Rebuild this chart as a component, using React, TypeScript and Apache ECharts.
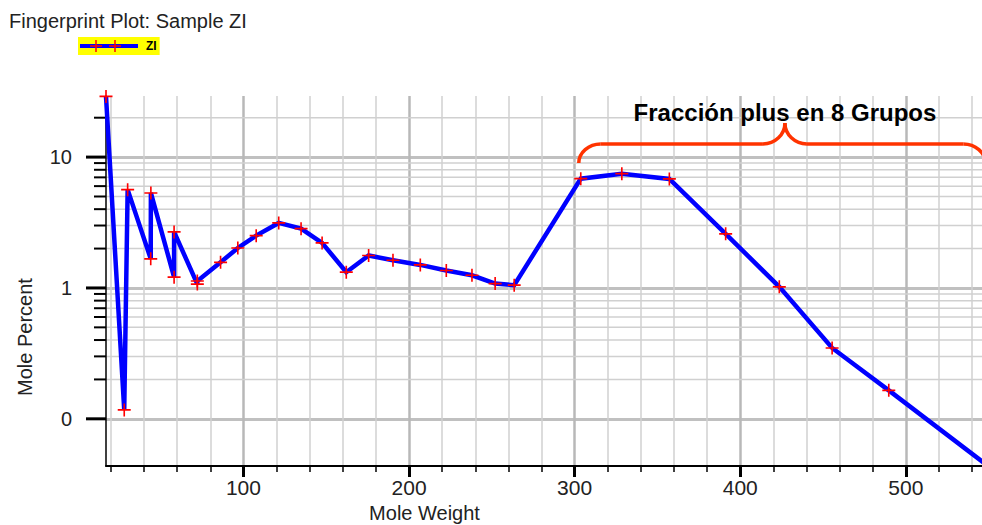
import React, { useEffect, useRef } from 'react';
import * as echarts from 'echarts';

// ---- data ----
const molWeight = [17, 28.01, 30.07, 44.01, 44.1, 58.12, 58.12, 72.15, 72.15, 86.18, 96.6, 107.7, 121.3, 134.8, 147.5, 162.1, 175.6, 190.3, 206.8, 222.5, 238, 252, 263.5, 303.7, 328.5, 357.2, 391.2, 423.6, 455.5, 489.7, 565];
const molePercent = [29.1, 0.117, 5.64, 1.67, 5.32, 1.21, 2.68, 1.07, 1.13, 1.57, 2.02, 2.51, 3.14, 2.84, 2.21, 1.32, 1.77, 1.63, 1.5, 1.36, 1.25, 1.08, 1.05, 6.84, 7.47, 6.81, 2.59, 1.02, 0.348, 0.165, 0.031];

const xMin = 17;
const xMax = 546;
const xMajorTicks = [100, 200, 300, 400, 500];
const xMinorTicks = [20, 40, 60, 80, 120, 140, 160, 180, 220, 240, 260, 280, 320, 340, 360, 380, 420, 440, 460, 480, 520, 540];

const yMin = 0.0436;
const yMax = 29.3;
const yMajorTicks = [0.1, 1, 10];
const yTickLabels = ['0', '1', '10'];
const yMinorTicks = [0.2, 0.3, 0.4, 0.5, 0.6, 0.7, 0.8, 0.9, 2, 3, 4, 5, 6, 7, 8, 9, 20];

const titleText = 'Fingerprint Plot: Sample ZI';
const seriesName = 'ZI';
const xName = 'Mole Weight';
const yName = 'Mole Percent';
const annotationText = 'Fracción plus en 8 Grupos';
// brace annotation anchors (data units)
const braceStartMW = 302.5;
const braceEndMW = 548;
const braceCuspMW = 427;
const braceBottomPct = 9.0;
const braceTopPct = 12.6;
const braceCuspPct = 18.2;

const FONT = 'Liberation Sans, Arial, Helvetica, sans-serif';
const plusPath = 'path://M5.25 0h1.5v5.25h5.25v1.5h-5.25v5.25h-1.5v-5.25h-5.25v-1.5h5.25z';

export default function App() {
  const ref = useRef<HTMLDivElement>(null);
  useEffect(() => {
    const el = ref.current!;
    const chart = echarts.init(el, null, { renderer: 'svg' });
    const option: any = {
      animation: false,
      backgroundColor: '#ffffff',
      title: {
        text: titleText,
        left: 9,
        top: 11,
        padding: 0,
        textStyle: { fontSize: 20, fontWeight: 'normal', color: '#222', fontFamily: FONT },
      },
      legend: {
        data: [seriesName],
        left: 78,
        top: 37,
        padding: [3, 3, 3, 0],
        backgroundColor: '#ffff00',
        itemWidth: 58,
        itemHeight: 12,
        itemGap: 0,
        selectedMode: false,
        lineStyle: { width: 4 },
        itemStyle: { opacity: 0 },
        textStyle: { fontSize: 12, fontWeight: 'bold', color: '#000', fontFamily: FONT, padding: [0, 0, 0, 3] },
      },
      grid: { left: 106, right: 0, top: 96, bottom: 59, containLabel: false, outerBoundsMode: 'none' },
      xAxis: [
        {
          type: 'value',
          min: xMin,
          max: xMax,
          position: 'bottom',
          axisLine: { show: true, onZero: false, lineStyle: { color: '#000', width: 2 } },
          axisTick: { show: true, customValues: xMinorTicks, length: 6, lineStyle: { color: '#000', width: 1.5 } },
          axisLabel: { show: false },
          splitLine: { show: true, lineStyle: { color: '#d0d0d0', width: 1.5 } },
        },
        {
          type: 'value',
          min: xMin,
          max: xMax,
          position: 'bottom',
          offset: 0,
          axisLine: { show: false, onZero: false },
          axisTick: { show: true, customValues: xMajorTicks, length: 11, lineStyle: { color: '#000', width: 3 } },
          axisLabel: { show: true, customValues: xMajorTicks, fontSize: 21, color: '#222', fontFamily: FONT, margin: 11 },
          splitLine: { show: true, lineStyle: { color: '#b8b8b8', width: 2.5 } },
          name: xName,
          nameLocation: 'middle',
          nameGap: 32,
          nameTextStyle: { fontSize: 20, color: '#222', fontFamily: FONT, padding: [0, 239, 0, 0] },
        },
      ],
      yAxis: {
        type: 'log',
        logBase: 10,
        min: yMin,
        max: yMax,
        axisLine: { show: true, lineStyle: { color: '#000', width: 1.5 } },
        axisTick: { show: false },
        axisLabel: {
          fontSize: 20,
          color: '#222',
          fontFamily: FONT,
          margin: 34,
          formatter: (v: number) => {
            const k = yMajorTicks.findIndex((t) => Math.abs(Math.log10(t) - Math.log10(v)) < 1e-6);
            return k >= 0 ? yTickLabels[k] : '';
          },
        },
        splitLine: { show: true, showMinLine: false, showMaxLine: false, lineStyle: { color: '#c0c0c0', width: 3 } },
        name: yName,
        nameLocation: 'middle',
        nameGap: 71,
        nameTextStyle: { fontSize: 20, color: '#222', fontFamily: FONT, padding: [0, 112, 0, 0] },
      },
      series: [
        {
          name: seriesName,
          type: 'line',
          xAxisIndex: 0,
          yAxisIndex: 0,
          data: molWeight.map((x, i) => [x, molePercent[i]]),
          symbol: plusPath,
          symbolSize: 13,
          showSymbol: true,
          showAllSymbol: true,
          clip: true,
          z: 3,
          itemStyle: { color: '#ff0000' },
          lineStyle: { color: '#0000ff', width: 4.5, join: 'miter', miterLimit: 10, cap: 'butt' },
          emphasis: { disabled: true },
          silent: true,
        },
      ],
    };
    chart.setOption(option);

    const toX = (v: number) => chart.convertToPixel({ xAxisIndex: 0 }, v) as number;
    const toY = (v: number) => chart.convertToPixel({ yAxisIndex: 0 }, v) as number;
    const xl = toX(xMin);
    const xr = toX(xMax);
    const elements: any[] = [];
    yMinorTicks.forEach((v) => {
      const y = toY(v);
      elements.push({ type: 'line', silent: true, z: 0, shape: { x1: xl, y1: y, x2: xr, y2: y }, style: { stroke: '#d0d0d0', lineWidth: 1.5 } });
      elements.push({ type: 'line', silent: true, z: 1, shape: { x1: xl - 12, y1: y, x2: xl, y2: y }, style: { stroke: '#000', lineWidth: 2 } });
    });
    yMajorTicks.forEach((v) => {
      const y = toY(v);
      elements.push({ type: 'line', silent: true, z: 1, shape: { x1: xl - 20, y1: y, x2: xl, y2: y }, style: { stroke: '#000', lineWidth: 3 } });
    });

    // two red plus markers on the legend sample line
    const legendPlus = (cx: number, cy: number) => [
      { type: 'line', silent: true, z: 20, zlevel: 0, shape: { x1: cx - 6, y1: cy, x2: cx + 6, y2: cy }, style: { stroke: '#ff0000', lineWidth: 1.5 } },
      { type: 'line', silent: true, z: 20, zlevel: 0, shape: { x1: cx, y1: cy - 6, x2: cx, y2: cy + 6 }, style: { stroke: '#ff0000', lineWidth: 1.5 } },
    ];
    elements.push(...legendPlus(96, 46));
    elements.push(...legendPlus(115, 46));

    // curly brace annotation
    const L = toX(braceStartMW);
    const R = toX(braceEndMW);
    const C = toX(braceCuspMW);
    const B = toY(braceBottomPct);
    const T = toY(braceTopPct);
    const K = toY(braceCuspPct);
    const rx = 22;
    const ry = B - T;
    const kr = T - K;
    const k = 0.552;
    const braceStyle = { stroke: '#ff3300', lineWidth: 3.5, fill: 'none' };
    const curve = (x1: number, y1: number, cpx1: number, cpy1: number, cpx2: number, cpy2: number, x2: number, y2: number) => ({
      type: 'bezierCurve', silent: true, z: 5,
      shape: { x1, y1, cpx1, cpy1, cpx2, cpy2, x2, y2 },
      style: braceStyle,
    });
    const seg = (x1: number, y1: number, x2: number, y2: number) => ({
      type: 'line', silent: true, z: 5, shape: { x1, y1, x2, y2 }, style: braceStyle,
    });
    elements.push(curve(L, B, L, B - k * ry, L + rx - k * rx, T, L + rx, T));
    elements.push(seg(L + rx, T, C - rx, T));
    elements.push(curve(C - rx, T, C - rx + k * rx, T, C, T - kr + k * kr, C, K));
    elements.push(curve(C, K, C, T - kr + k * kr, C + rx - k * rx, T, C + rx, T));
    elements.push(seg(C + rx, T, R - rx, T));
    elements.push(curve(R - rx, T, R - rx + k * rx, T, R, B - k * ry, R, B));
    elements.push({
      type: 'text', silent: true, z: 6,
      x: C, y: K + 1,
      style: { text: annotationText, fill: '#000', font: `bold 24px ${FONT}`, textAlign: 'center', textVerticalAlign: 'bottom' },
    });

    chart.setOption({ graphic: elements });
    return () => chart.dispose();
  }, []);
  return <div ref={ref} style={{ position: 'absolute', left: 0, top: 0, width: 982, height: 525 }} />;
}
